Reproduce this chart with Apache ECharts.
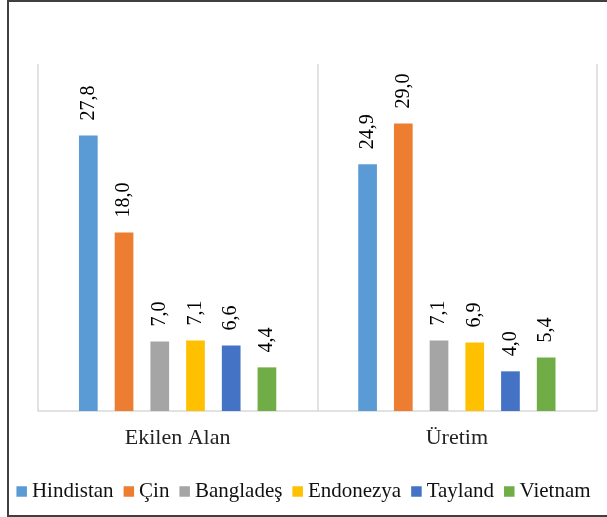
<!DOCTYPE html>
<html>
<head>
<meta charset="utf-8">
<script src="https://cdn.jsdelivr.net/npm/echarts@6/dist/echarts.min.js"></script>
<style>
  html, body { margin: 0; padding: 0; background: #fff; }
  #main { width: 607px; height: 517px; }
</style>
</head>
<body>
<div id="main"></div>
<script>
// kategoriler ve ulke verileri (%)
var categories = ['Ekilen Alan', 'Üretim'];
var countries = ['Hindistan', 'Çin', 'Bangladeş', 'Endonezya', 'Tayland', 'Vietnam'];
var hindistan = [27.8, 24.9];
var cin = [18.0, 29.0];
var banglades = [7.0, 7.1];
var endonezya = [7.1, 6.9];
var tayland = [6.6, 4.0];
var vietnam = [4.4, 5.4];
var colors = ['#5B9BD5', '#ED7D31', '#A5A5A5', '#FFC000', '#4472C4', '#70AD47'];

var seriesData = [hindistan, cin, banglades, endonezya, tayland, vietnam];
var font = "'Liberation Serif', 'Times New Roman', serif";

var myChart = echarts.init(document.getElementById('main'));

var series = [];
for (var i = 0; i < countries.length; i++) {
  series.push({
    name: countries[i],
    type: 'bar',
    data: seriesData[i],
    barWidth: 18.7,
    barGap: '91%',
    itemStyle: { color: colors[i] },
    label: {
      show: true,
      position: 'top',
      rotate: 90,
      align: 'left',
      verticalAlign: 'middle',
      distance: 15,
      fontFamily: font,
      fontSize: 20,
      color: '#000',
      formatter: function (p) { return p.value.toFixed(1).replace('.', ','); }
    }
  });
}

var option = {
  animation: false,
  backgroundColor: '#fff',
  color: colors,
  grid: { left: 38, right: 10.5, top: 64, bottom: 106 },
  xAxis: {
    type: 'category',
    data: categories,
    axisLine: { lineStyle: { color: '#d9d9d9', width: 1.5 } },
    axisTick: { show: false },
    splitLine: { show: true, lineStyle: { color: '#d9d9d9', width: 1.5 } },
    axisLabel: { fontFamily: font, fontSize: 22, color: '#222', margin: 16 }
  },
  yAxis: { type: 'value', min: 0, max: 35, show: false },
  legend: {
    data: countries,
    left: 'center',
    top: 476,
    icon: 'rect',
    itemWidth: 10.5,
    itemHeight: 10.5,
    itemGap: 10,
    textStyle: { fontFamily: font, fontSize: 21, color: '#111' }
  },
  graphic: [{
    type: 'polyline',
    shape: { points: [[620, 1], [8, 1], [8, 516], [620, 516]] },
    style: { stroke: '#404040', lineWidth: 2, fill: null }
  }],
  series: series
};

myChart.setOption(option);
</script>
</body>
</html>
